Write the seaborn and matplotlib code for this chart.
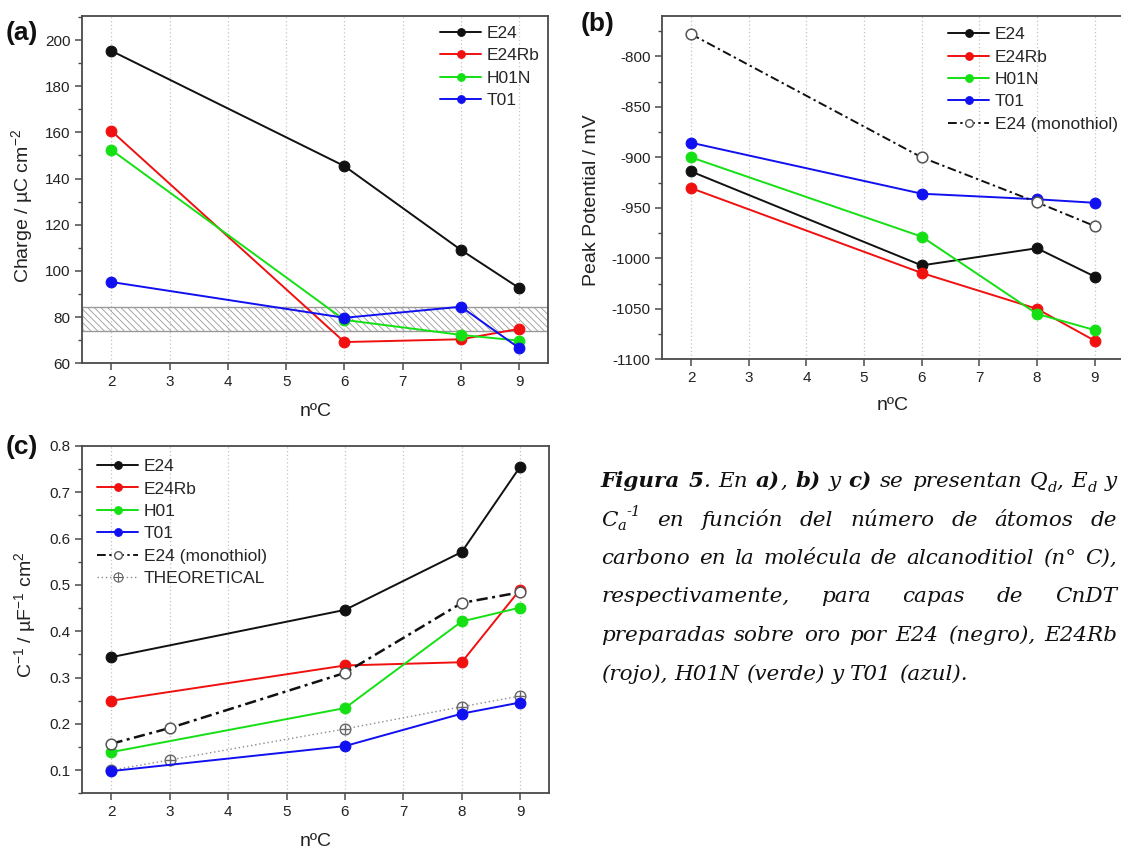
import matplotlib
matplotlib.use("Agg")
import numpy as np
import pandas as pd
import matplotlib.pyplot as plt
import seaborn as sns
from matplotlib.lines import Line2D
from matplotlib.legend_handler import HandlerTuple
from matplotlib.ticker import MultipleLocator, FormatStrFormatter
from matplotlib.transforms import IdentityTransform

# ---------------- data ----------------
carbons = [2, 6, 8, 9]

# (a) charge
charge_E24 = [195.3, 145.4, 109.1, 92.6]
charge_E24Rb = [160.6, 69.2, 70.4, 74.9]
charge_H01N = [152.4, 78.8, 72.3, 69.8]
charge_T01 = [95.2, 79.7, 84.5, 66.6]
charge_band = [74.0, 84.4]

# (b) peak potential
pot_E24 = [-914, -1007, -990, -1018]
pot_E24Rb = [-930.5, -1014.5, -1050, -1081.5]
pot_H01N = [-900, -978.5, -1055, -1071]
pot_T01 = [-885.5, -936, -941.5, -945]
pot_mono = [-778, -900, -944.5, -968]

# (c) inverse capacitance
cinv_E24 = [0.344, 0.446, 0.571, 0.755]
cinv_E24Rb = [0.250, 0.326, 0.333, 0.490]
cinv_H01 = [0.139, 0.234, 0.421, 0.451]
cinv_T01 = [0.098, 0.152, 0.222, 0.246]
carbons_mono = [2, 3, 6, 8, 9]
cinv_mono = [0.157, 0.191, 0.310, 0.461, 0.484]
carbons_theo = [2, 3, 6, 8, 9]
cinv_theo = [0.100, 0.122, 0.189, 0.237, 0.260]

labels_a = ["E24", "E24Rb", "H01N", "T01"]
labels_b = ["E24", "E24Rb", "H01N", "T01", "E24 (monothiol)"]
labels_c = ["E24", "E24Rb", "H01", "T01", "E24 (monothiol)", "THEORETICAL"]

# ---------------- style ----------------
sns.set_theme(style="white")
plt.rcParams['font.family'] = ['Liberation Sans', 'DejaVu Sans']
plt.rcParams['mathtext.fontset'] = 'custom'
plt.rcParams['mathtext.rm'] = 'Liberation Sans'
plt.rcParams['mathtext.it'] = 'Liberation Sans:italic'
plt.rcParams['mathtext.default'] = 'regular'
plt.rcParams['hatch.linewidth'] = 0.6
plt.rcParams['axes.unicode_minus'] = False

BLACK = '#111111'
RED = '#f01010'
GREEN = '#14e014'
BLUE = '#1010f0'
GRAY = '#555555'
SPINE = '#4a4a4a'
DASHDOT = (0, (4.5, 1.8, 1.2, 1.8))

W, H = 1121, 850
fig = plt.figure(figsize=(W / 100, H / 100), dpi=100)


def px_axes(left, top, right, bottom):
    return fig.add_axes([left / W, 1 - bottom / H, (right - left) / W, (bottom - top) / H])


ax_a = px_axes(82.3, 16, 548.3, 363.3)
ax_b = px_axes(662.3, 16, 1123.4, 359.3)
ax_c = px_axes(82.3, 445.7, 549.3, 793.3)


def style_axes(ax, ylim, ymajor, yminor, fmt=None):
    ax.set_xlim(1.5, 9.5)
    ax.set_ylim(*ylim)
    ax.set_xticks(range(2, 10))
    ax.yaxis.set_major_locator(MultipleLocator(ymajor))
    ax.yaxis.set_minor_locator(MultipleLocator(yminor))
    if fmt:
        ax.yaxis.set_major_formatter(FormatStrFormatter(fmt))
    for s in ax.spines.values():
        s.set_visible(True)
        s.set_color(SPINE)
        s.set_linewidth(1.3)
    ax.tick_params(axis='both', which='major', direction='out', length=5, width=1.1,
                   color=SPINE, labelsize=11, labelcolor='#222222', pad=3.5,
                   top=False, right=False, bottom=True, left=True)
    ax.tick_params(axis='y', which='minor', direction='out', length=3, width=1.0,
                   color=SPINE, left=True, right=False)
    ax.tick_params(axis='x', which='minor', bottom=False, top=False)
    ax.grid(False)
    ax.grid(axis='x', which='major', linestyle=(0, (1, 2)), color='#c4c4c4', linewidth=0.9)
    ax.set_axisbelow(True)
    ax.set_facecolor('white')


def draw(ax, x, y, color, ls='-', fc=None, ec=None, z=3, lw=1.4, ms=7.7, marker='o', mew=0.8):
    df = pd.DataFrame({'nC': x, 'val': y})
    sns.lineplot(data=df, x='nC', y='val', ax=ax, color=color, linestyle=ls, linewidth=lw,
                 marker=marker, markersize=ms,
                 markerfacecolor=fc if fc is not None else color,
                 markeredgecolor=ec if ec is not None else color,
                 markeredgewidth=mew, errorbar=None, estimator=None, sort=False,
                 legend=False, zorder=z)


def handle(color, ls='-', fc=None, ec=None, lw=1.4, ms=5.5, marker='o', mew=0.8):
    return Line2D([], [], color=color, linestyle=ls, linewidth=lw, marker=marker, markersize=ms,
                  markerfacecolor=fc if fc is not None else color,
                  markeredgecolor=ec if ec is not None else color, markeredgewidth=mew)


def labels(ax, ylabel, ylab_xy, xlab_y):
    ax.set_ylabel(ylabel, fontsize=14, color='#222222')
    ax.yaxis.set_label_coords(*ylab_xy)
    ax.yaxis.label.set_verticalalignment('center')
    ax.set_xlabel('nºC', fontsize=14, color='#222222')
    ax.xaxis.set_label_coords(0.5, xlab_y)
    ax.xaxis.label.set_verticalalignment('center')


leg_kw = dict(frameon=False, handlelength=2.4, handletextpad=0.3, labelspacing=0.42,
              borderaxespad=0, borderpad=0, fontsize=12.5, loc='upper left')

# ---------------- panel (a) ----------------
style_axes(ax_a, (60, 210.4), 20, 10)
ax_a.axhspan(charge_band[0], charge_band[1], facecolor='none', edgecolor='#9a9a9a',
             hatch='\\\\\\\\\\', linewidth=1.0, zorder=1)
for vals, col in zip([charge_E24, charge_E24Rb, charge_H01N, charge_T01], [BLACK, RED, GREEN, BLUE]):
    draw(ax_a, carbons, vals, col)
labels(ax_a, r'Charge / µC cm$^{-2}$', (-0.13, 0.453), -0.138)
ha = [handle(c) for c in [BLACK, RED, GREEN, BLUE]]
ax_a.legend(ha, labels_a, bbox_to_anchor=(0.767, 0.972), **leg_kw)

# ---------------- panel (b) ----------------
style_axes(ax_b, (-1100, -760), 50, 25)
for vals, col in zip([pot_E24, pot_E24Rb, pot_H01N, pot_T01], [BLACK, RED, GREEN, BLUE]):
    draw(ax_b, carbons, vals, col)
draw(ax_b, carbons, pot_mono, BLACK, ls=DASHDOT, fc='white', ec=GRAY, mew=1.1, z=5)
labels(ax_b, 'Peak Potential / mV', (-0.153, 0.464), -0.134)
hb = [handle(c) for c in [BLACK, RED, GREEN, BLUE]]
hb.append(handle(BLACK, ls=DASHDOT, fc='white', ec=GRAY, mew=1.0))
ax_b.legend(hb, labels_b, bbox_to_anchor=(0.619, 0.968), **leg_kw)

# ---------------- panel (c) ----------------
style_axes(ax_c, (0.05, 0.8005), 0.1, 0.05, '%.1f')
draw(ax_c, carbons_theo, cinv_theo, '#8a8a8a', ls=(0, (1, 2)), fc='white', ec='#666666',
     lw=1.0, mew=1.0, z=2)
draw(ax_c, carbons_theo, cinv_theo, '#666666', ls='None', marker='+', ec='#666666',
     ms=7.7, mew=1.0, z=2.1)
for vals, col in zip([cinv_E24, cinv_E24Rb, cinv_H01, cinv_T01], [BLACK, RED, GREEN, BLUE]):
    draw(ax_c, carbons, vals, col)
draw(ax_c, carbons_mono, cinv_mono, BLACK, ls=DASHDOT, fc='white', ec=GRAY, mew=1.1, lw=1.8, z=5)
labels(ax_c, r'C$^{-1}$ / µF$^{-1}$ cm$^{2}$', (-0.123, 0.513), -0.139)
hc = [handle(c) for c in [BLACK, RED, GREEN, BLUE]]
hc.append(handle(BLACK, ls=DASHDOT, fc='white', ec=GRAY, mew=1.0))
hc.append((handle('#8a8a8a', ls=(0, (1, 2)), fc='white', ec='#666666', lw=1.0, ms=6.5),
           handle('#666666', ls='None', marker='+', ec='#666666', ms=6.5)))
ax_c.legend(hc, labels_c, bbox_to_anchor=(0.031, 0.962),
            handler_map={tuple: HandlerTuple(ndivide=1)}, **leg_kw)

# ---------------- panel letters ----------------
for txt, x, y in [('(a)', 6, 33), ('(b)', 581, 24), ('(c)', 6, 447)]:
    fig.text(x / W, 1 - y / H, txt, fontsize=19, fontweight='bold', ha='left', va='center',
             color='#111111')

# ---------------- caption ----------------
CAP_FONT = 'DejaVu Serif'
renderer = fig.canvas.get_renderer()

cap_lines = [
    [[("Figura", "bi")], [("5", "bi"), (".", "i")], [("En", "i")], [("a)", "bi"), (",", "i")],
     [("b)", "bi")], [("y", "i")], [("c)", "bi")], [("se", "i")], [("presentan", "i")],
     [("Q", "i"), ("d", "sub"), (",", "i")], [("E", "i"), ("d", "sub")], [("y", "i")]],
    [[("C", "i"), ("a", "sub"), ("-1", "sup")], [("en", "i")], [("función", "i")], [("del", "i")],
     [("número", "i")], [("de", "i")], [("átomos", "i")], [("de", "i")]],
    [[(w, "i")] for w in "carbono en la molécula de alcanoditiol (n° C),".split(" ")],
    [[(w, "i")] for w in "respectivamente, para capas de CnDT".split(" ")],
    [[(w, "i")] for w in "preparadas sobre oro por E24 (negro), E24Rb".split(" ")],
    [[(w, "i")] for w in "(rojo), H01N (verde) y T01 (azul).".split(" ")],
]
cap_baselines = [487, 525.5, 564, 602.5, 641, 679.5]
cap_x0, cap_x1 = 601, 1117
last_target_w = 365


def seg_props(kind, size):
    p = dict(family=CAP_FONT, style='italic', fontsize=size, color='#111111')
    dy = 0.0
    if kind == 'bi':
        p['weight'] = 'bold'
    elif kind == 'sub':
        p['fontsize'] = size * 0.68
        dy = -0.22 * size * 100 / 72
    elif kind == 'sup':
        p['fontsize'] = size * 0.68
        dy = 0.42 * size * 100 / 72
    return p, dy


def text_width(s, size, kind='i'):
    p, _ = seg_props(kind, size)
    t = fig.text(0, 0, s, transform=IdentityTransform(), **p)
    w = t.get_window_extent(renderer).width
    t.remove()
    return w


# fit font size to last line width
ref_size = 12
words_last = cap_lines[-1]
nat = sum(text_width(s, ref_size, k) for wd in words_last for s, k in wd)
nat += (len(words_last) - 1) * (text_width("n n", ref_size) - text_width("nn", ref_size))
cap_size = ref_size * last_target_w / nat
space_w = text_width("n n", cap_size) - text_width("nn", cap_size)

for li, (line, base) in enumerate(zip(cap_lines, cap_baselines)):
    word_objs = []
    for wd in line:
        segs = []
        for s, k in wd:
            p, dy = seg_props(k, cap_size)
            t = fig.text(0, 0, s, transform=IdentityTransform(), va='baseline', ha='left', **p)
            segs.append((t, t.get_window_extent(renderer).width, dy))
        word_objs.append(segs)
    widths = [sum(w for _, w, _ in segs) for segs in word_objs]
    if li < len(cap_lines) - 1 and len(widths) > 1:
        gap = (cap_x1 - cap_x0 - sum(widths)) / (len(widths) - 1)
        gap = max(gap, space_w * 0.6)
    else:
        gap = space_w
    x = cap_x0
    ybase = H - base
    for segs, wtot in zip(word_objs, widths):
        xs = x
        for t, w, dy in segs:
            t.set_position((xs, ybase + dy))
            xs += w
        x += wtot + gap

fig.savefig('out.png', dpi=100, facecolor='white')
